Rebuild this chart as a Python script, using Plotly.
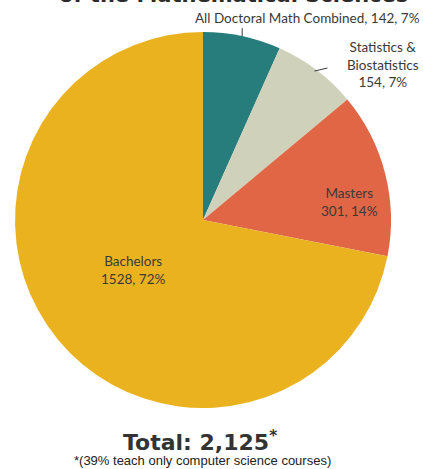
import math
import plotly.graph_objects as go

# --- Data ---
labels = ["All Doctoral Math Combined", "Statistics & Biostatistics", "Masters", "Bachelors"]
values = [142, 154, 301, 1528]
colors = ["#267d7b", "#d0d1bb", "#e06646", "#ebb220"]
total_label = "Total: 2,125"
footnote = "*(39% teach only computer science courses)"
title_text = "of the Mathematical Sciences"

W, H = 423, 469
cx, cy, R = 203, 220, 188   # pie centre / radius in px


def px(x):
    return x / W


def py(y):
    return 1 - y / H


tot = sum(values)
pct = [f"{round(100 * v / tot)}%" for v in values]

fig = go.Figure()
fig.add_trace(go.Pie(
    labels=labels,
    values=values,
    textinfo="none",
    marker=dict(colors=colors, line=dict(width=0)),
    sort=False,
    direction="clockwise",
    rotation=0,
    showlegend=False,
    automargin=False,
    hoverinfo="label+value+percent",
    domain=dict(x=[px(cx - R), px(cx + R)], y=[py(cy + R), py(cy - R)]),
))

# --- slice labels ---
lab_font = dict(family="Lato, Open Sans, sans-serif", size=13.5, color="#3a3a3a")
slice_text = [
    f"{labels[0]}, {values[0]}, {pct[0]}",
    f"Statistics &<br>Biostatistics<br>{values[1]}, {pct[1]}",
    f"{labels[2]}<br>{values[2]}, {pct[2]}",
    f"{labels[3]}<br>{values[3]}, {pct[3]}",
]
label_xy = [(307, 18), (383, 64), (349, 202), (133, 270)]
annotations = []
for t, (x, y) in zip(slice_text, label_xy):
    annotations.append(dict(text=t, x=px(x), y=py(y), xref="paper", yref="paper",
                            xanchor="center", yanchor="middle", showarrow=False,
                            align="center", font=lab_font))

# --- short leader lines for the two outside labels (from slice mid angles) ---
shapes = []
cum = 0
for i, v in enumerate(values):
    mid = (cum + v / 2) / tot * 2 * math.pi
    cum += v
    if i > 1:
        continue
    x0 = cx + R * math.sin(mid)
    y0 = cy - R * math.cos(mid)
    if i == 0:
        x1, y1 = x0, y0 - 8
    else:
        x0, y0 = x0 - 2, y0 + 1
        x1, y1 = x0 + 13, y0 - 3
    shapes.append(dict(type="line", xref="paper", yref="paper",
                       x0=px(x0), y0=py(y0), x1=px(x1), y1=py(y1),
                       line=dict(color="#3a3a3a", width=1)))

annotations += [
    dict(text="<b>" + title_text + "</b>", x=px(233), y=py(-5), xref="paper", yref="paper",
         xanchor="center", yanchor="middle", showarrow=False,
         font=dict(family="DejaVu Sans", size=21, color="#2b2b2b")),
    dict(text="<b>" + total_label + "<sup>*</sup></b>", x=px(200), y=py(441),
         xref="paper", yref="paper", xanchor="center", yanchor="middle", showarrow=False,
         font=dict(family="DejaVu Sans", size=22, color="#333333")),
    dict(text=footnote, x=px(202), y=py(460), xref="paper", yref="paper",
         xanchor="center", yanchor="middle", showarrow=False,
         font=dict(family="Liberation Sans", size=13, color="#222222")),
]

fig.update_layout(
    width=W, height=H,
    margin=dict(l=0, r=0, t=0, b=0),
    paper_bgcolor="white",
    plot_bgcolor="white",
    shapes=shapes,
    annotations=annotations,
)

# page body margin set to 0 so the figure fills the window
fig.write_html("out.html", config={"displayModeBar": False},
               post_script="document.body.style.margin='0';")
